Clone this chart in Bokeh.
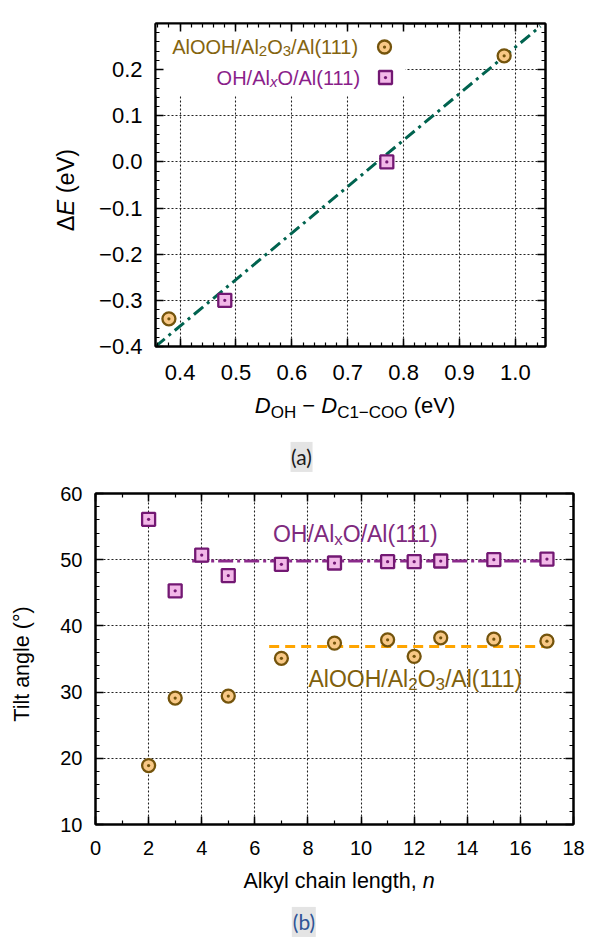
import math
from bokeh.plotting import figure
from bokeh.models import (Range1d, SingleIntervalTicker, LinearAxis, Label,
                          BoxAnnotation, CustomJSTickFormatter, Div)
from bokeh.embed import file_html
from bokeh.resources import INLINE

# ---------------- data (a) ----------------
XA_RANGE = [0.356, 1.054]
YA_RANGE = [-0.4, 0.3]
ALOOH_D = [0.38, 0.98]
ALOOH_E = [-0.34, 0.23]
OH_D = [0.48, 0.77]
OH_E = [-0.30, 0.00]
FIT_D = [0.356, 1.045]
FIT_E = [-0.400, 0.294]

# ---------------- data (b) ----------------
XB_RANGE = [0, 18]
YB_RANGE = [10, 60]
OH_N = [2, 3, 4, 5, 7, 9, 11, 12, 13, 15, 17]
OH_TILT = [56.1, 45.3, 50.7, 47.6, 49.3, 49.5, 49.7, 49.7, 49.8, 50.0, 50.1]
AL_N = [2, 3, 5, 7, 9, 11, 12, 13, 15, 17]
AL_TILT = [18.9, 29.1, 29.4, 35.1, 37.4, 37.9, 35.4, 38.2, 38.0, 37.7]
OH_FIT_N = [3.64, 17.35]
OH_FIT_TILT = [49.8, 49.8]
AL_FIT_N = [6.54, 17.2]
AL_FIT_TILT = [36.9, 36.9]

# ---------------- styles ----------------
FONT = "Liberation Sans"
CIRC_FILL, CIRC_LINE = "#F8C886", "#74540C"
SQ_FILL, SQ_LINE = "#F2B8E8", "#731873"
TXT_BROWN, TXT_PURPLE = "#84640F", "#8A1E8A"
TEAL, PURPLE_LINE, ORANGE = "#00634F", "#8B2A8B", "#FFA500"
MK_SIZE, MK_LW = 13, 2.3

W = {'A': 667, 'l': 222, 'O': 778, 'H': 722, '/': 278, '(': 333, ')': 333,
     '1': 556, '2': 556, '3': 556, 'x': 500, ' ': 278, 'D': 722, 'C': 722,
     '\u2212': 584, '-': 333, 'e': 556, 'V': 667, '\u0394': 668, 'E': 667,
     'n': 556, 'T': 611, 'i': 222, 't': 278, 'a': 556, 'g': 556, '\u00b0': 400,
     'k': 500, 'y': 500, 'c': 500, 'h': 556, ',': 278}


def tw(t, s):
    return sum(W.get(c, 556) for c in t) * s / 1000.0


def hrich(p, ax, ay, segs, dx, dy, align, color):
    total = sum(tw(t, s) for t, s, it, sh in segs)
    pos = dx - (total / 2 if align == "center" else total if align == "right" else 0)
    for t, s, it, sh in segs:
        p.add_layout(Label(x=ax, y=ay, x_offset=pos, y_offset=-(dy + sh), text=t,
                           text_font=FONT, text_font_size=f"{s}px",
                           text_font_style="italic" if it else "normal",
                           text_color=color, text_align="left",
                           text_baseline="alphabetic"))
        pos += tw(t, s)


def make_fig(w, h, xr, yr, left, right, top, bottom, page_top):
    p = figure(width=w, height=h, x_range=Range1d(*xr), y_range=Range1d(*yr),
               output_backend="svg", toolbar_location=None,
               min_border_left=left, min_border_right=right,
               min_border_top=top, min_border_bottom=bottom)
    p.outline_line_color = "black"
    p.outline_line_width = 2
    p.background_fill_color = "white"
    p.border_fill_color = "white"
    p.styles = {"position": "absolute", "left": "0px", "top": f"{page_top}px"}
    return p


def style_axis(ax, ticker, size, standoff, formatter=None, labels=True):
    ax.ticker = ticker
    ax.axis_label = None
    ax.major_tick_in = 8
    ax.major_tick_out = 0
    ax.minor_tick_in = 4
    ax.minor_tick_out = 0
    ax.major_tick_line_color = "black"
    ax.major_tick_line_width = 1.5
    ax.minor_tick_line_color = "black"
    ax.minor_tick_line_width = 1.2
    ax.axis_line_color = "black"
    ax.axis_line_width = 2
    ax.major_label_text_font = FONT
    ax.major_label_text_color = "black"
    if formatter is not None:
        ax.formatter = formatter
    if labels:
        ax.major_label_text_font_size = f"{size}px"
        ax.major_label_standoff = standoff
    else:
        ax.major_label_text_font_size = "0px"
        ax.major_label_standoff = 0
        ax.formatter = CustomJSTickFormatter(code="return '';")


def style_grid(p, xt, yt):
    for g, t in ((p.xgrid, xt), (p.ygrid, yt)):
        g.ticker = t
        g.grid_line_color = "#222222"
        g.grid_line_width = 1.1
        g.grid_line_dash = "2 2"


MINUS_FMT = ("const v = Math.abs(tick) < 1e-9 ? 0 : tick; "
             "return v.toFixed(1).replace('-', '\\u2212');")

# =============== figure (a) ===============
# page frame: x 155..545, y 23..346
pa = make_fig(589, 480, XA_RANGE, YA_RANGE, 155, 44, 23, 134, 0)
xta = SingleIntervalTicker(interval=0.1, num_minor_ticks=5)
yta = SingleIntervalTicker(interval=0.1, num_minor_ticks=5)
style_axis(pa.below[0], xta, 22, 18, CustomJSTickFormatter(code=MINUS_FMT))
style_axis(pa.left[0], yta, 22, 13, CustomJSTickFormatter(code=MINUS_FMT))
ax_top = LinearAxis()
style_axis(ax_top, xta, 0, 0, labels=False)
pa.add_layout(ax_top, "above")
ax_right = LinearAxis()
style_axis(ax_right, yta, 0, 0, labels=False)
pa.add_layout(ax_right, "right")
style_grid(pa, xta, yta)

FA_W, FA_H = 390.0, 323.0
X0, X1 = XA_RANGE
Y0, Y1 = YA_RANGE


def pxa(dx, dy):
    return X0 + dx / FA_W * (X1 - X0), Y1 - dy / FA_H * (Y1 - Y0)


# white legend background hiding the grid
bx_r, bx_b = pxa(250, 72)
pa.add_layout(BoxAnnotation(left=X0, right=bx_r, top=Y1, bottom=bx_b,
                            fill_color="white", fill_alpha=1.0, line_color=None,
                            level="underlay"))

pa.line(FIT_D, FIT_E, line_color=TEAL, line_width=3, line_dash="12 5 3 5")
pa.scatter(ALOOH_D, ALOOH_E, marker="circle_dot", size=MK_SIZE, fill_color=CIRC_FILL,
           line_color=CIRC_LINE, line_width=MK_LW)
pa.scatter(OH_D, OH_E, marker="square_dot", size=MK_SIZE, fill_color=SQ_FILL,
           line_color=SQ_LINE, line_width=MK_LW)

# legend swatches
m1 = pxa(229, 23.5)
m2 = pxa(230, 54)
pa.scatter([m1[0]], [m1[1]], marker="circle_dot", size=MK_SIZE, fill_color=CIRC_FILL,
           line_color=CIRC_LINE, line_width=MK_LW)
pa.scatter([m2[0]], [m2[1]], marker="square_dot", size=MK_SIZE, fill_color=SQ_FILL,
           line_color=SQ_LINE, line_width=MK_LW)

LS, SS = 20, 15
hrich(pa, X0, Y1, [("AlOOH/Al", LS, False, 0), ("2", SS, False, 4), ("O", LS, False, 0),
                   ("3", SS, False, 4), ("/Al(111)", LS, False, 0)],
      205.6, 23, "right", TXT_BROWN)
hrich(pa, X0, Y1, [("OH/Al", LS, False, 0), ("x", SS, True, 4), ("O/Al(111)", LS, False, 0)],
      207.5, 54, "right", TXT_PURPLE)

# =============== figure (b) ===============
# page frame: x 95..573, y 493..824
pb = make_fig(589, 458, XB_RANGE, YB_RANGE, 95, 16, 13, 114, 480)
xtb = SingleIntervalTicker(interval=2, num_minor_ticks=2)
ytb = SingleIntervalTicker(interval=10, num_minor_ticks=5)
style_axis(pb.below[0], xtb, 20, 16)
style_axis(pb.left[0], ytb, 20, 13)
bx_top = LinearAxis()
style_axis(bx_top, xtb, 0, 0, labels=False)
pb.add_layout(bx_top, "above")
bx_right = LinearAxis()
style_axis(bx_right, ytb, 0, 0, labels=False)
pb.add_layout(bx_right, "right")
style_grid(pb, xtb, ytb)

BX0, BX1 = XB_RANGE
BY0, BY1 = YB_RANGE

pb.line(OH_FIT_N, OH_FIT_TILT, line_color=PURPLE_LINE, line_width=3, line_dash="15 4 3 4")
pb.line(AL_FIT_N, AL_FIT_TILT, line_color=ORANGE, line_width=3, line_dash="10 6")
pb.scatter(OH_N, OH_TILT, marker="square_dot", size=MK_SIZE, fill_color=SQ_FILL,
           line_color=SQ_LINE, line_width=MK_LW)
pb.scatter(AL_N, AL_TILT, marker="circle_dot", size=MK_SIZE, fill_color=CIRC_FILL,
           line_color=CIRC_LINE, line_width=MK_LW)

BS, BSS = 23, 17
hrich(pb, BX0, BY1, [("OH/Al", BS, False, 0), ("x", BSS, False, 5), ("O/Al(111)", BS, False, 0)],
      177.4, 40.5, "left", "#7E2A7E")
hrich(pb, BX0, BY1, [("AlOOH/Al", BS, False, 0), ("2", BSS, False, 5), ("O", BS, False, 0),
                     ("3", BSS, False, 5), ("/Al(111)", BS, False, 0)],
      213, 185, "left", "#80600C")


# =============== outer texts (axis titles, panel captions) ===============
def sp(t, size, italic=False, dy=0):
    st = f"font-size:{size}px;"
    if italic:
        st += "font-style:italic;"
    if dy:
        st += f"position:relative;top:{dy}px;"
    return f'<span style="{st}">{t}</span>'


def block(cx, cy, inner, rotate=False, font=FONT, extra=""):
    tr = "translate(-50%,-50%)" + (" rotate(-90deg)" if rotate else "")
    return (f'<div style="position:absolute;left:{cx}px;top:{cy}px;transform:{tr};'
            f'white-space:nowrap;font-family:\'{font}\';line-height:1.15;color:black;{extra}">'
            f'{inner}</div>')


html = "".join([
    block(350, 401, sp("D", 22, True) + sp("OH", 17, dy=5) + sp(" \u2212 ", 22)
          + sp("D", 22, True) + sp("C1\u2212COO", 17, dy=5) + sp(" (eV)", 22)),
    block(62, 185, sp("\u0394", 23.5) + sp("E", 23.5, True) + sp(" (eV)", 23.5), rotate=True),
    block(296.5, 451.5, sp("(a)", 21), font="Lato",
          extra="background:#e4e4e4;padding:3px 1px;color:#1a1a1a;"),
    block(334, 876, sp("Alkyl chain length, ", 21.5) + sp("n", 21.5, True)),
    block(17, 658.5, sp("Tilt angle (\u00b0)", 21.5), rotate=True),
    block(299, 917, sp("(b)", 21), font="Lato",
          extra="background:#e4e4e4;padding:3px 1px;color:#2F5597;"),
])
overlay = Div(text=html, width=589, height=938,
              styles={"position": "absolute", "left": "0px", "top": "0px",
                      "overflow": "hidden", "pointer-events": "none"})

open("out.html", "w").write(file_html([pa, pb, overlay], INLINE))
